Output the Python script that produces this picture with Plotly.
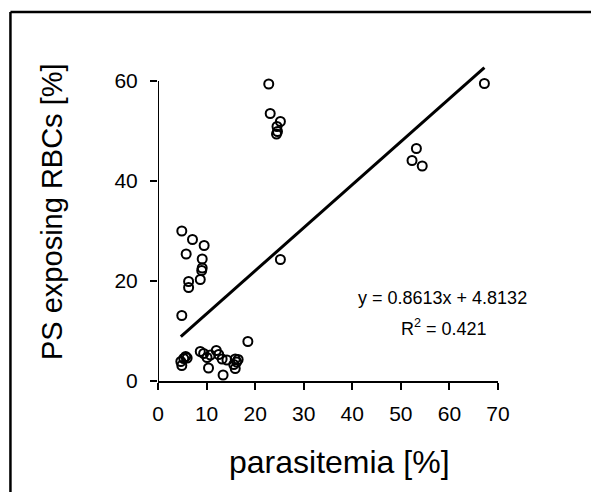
import plotly.graph_objects as go

# parasitemia [%] vs. share of PS-exposing RBCs [%]
parasitemia = [
    4.7, 5.3, 5.7, 4.9, 6.0,
    8.7, 9.4, 10.1, 10.4, 10.8,
    12.0, 12.5, 13.2, 13.4, 14.2,
    15.6, 15.9, 15.9, 16.5, 16.2,
    4.9, 7.1, 9.5, 5.8, 9.1, 9.1, 9.0, 8.7, 6.3, 6.3, 4.9, 18.5, 25.2,
    22.8, 23.1, 25.2, 24.5, 24.4, 24.6,
    53.2, 52.3, 54.4, 67.2,
]
ps_exposing = [
    3.9, 4.5, 4.9, 3.1, 4.6,
    5.9, 5.5, 4.7, 2.6, 5.2,
    6.1, 5.3, 4.4, 1.2, 4.2,
    3.3, 2.5, 4.4, 4.3, 3.8,
    30.0, 28.3, 27.1, 25.4, 24.4, 22.6, 22.1, 20.3, 19.9, 18.7, 13.1, 7.9, 24.3,
    59.4, 53.5, 51.9, 50.9, 49.4, 49.9,
    46.5, 44.1, 43.0, 59.5,
]

# linear fit reported on the chart
slope = 0.8613
intercept = 4.8132
r_squared = 0.421

x_ticks = [0, 10, 20, 30, 40, 50, 60, 70]
y_ticks = [0, 20, 40, 60]
y_axis_top = 60

FONT = "Liberation Sans, Arial, sans-serif"

fit_x = [min(parasitemia), max(parasitemia)]
fit_y = [slope * v + intercept for v in fit_x]

fig = go.Figure()
fig.add_trace(go.Scatter(
    x=fit_x, y=fit_y, mode="lines",
    line=dict(color="black", width=3),
    hoverinfo="skip",
))
fig.add_trace(go.Scatter(
    x=parasitemia, y=ps_exposing, mode="markers",
    marker=dict(symbol="circle-open", size=9, color="black",
                line=dict(color="black", width=2)),
    cliponaxis=False,
))

# y axis line stops at the last tick while the plot area leaves room above
fig.add_shape(type="line", xref="x", yref="y",
              x0=0, x1=0, y0=0, y1=y_axis_top,
              line=dict(color="black", width=2))

fig.add_annotation(
    x=58.5, y=16.6, xref="x", yref="y", showarrow=False,
    text=f"y = {slope}x + {intercept}",
    font=dict(family=FONT, size=18, color="black"),
)
fig.add_annotation(
    x=58.8, y=10.8, xref="x", yref="y", showarrow=False,
    text=f"R<sup>2</sup> = {r_squared}",
    font=dict(family=FONT, size=18, color="black"),
)

# axis titles
fig.add_annotation(
    x=0.535, y=-0.253, xref="paper", yref="paper", showarrow=False,
    xanchor="center", yanchor="middle",
    text="parasitemia [%]",
    font=dict(family=FONT, size=32, color="black"),
)
fig.add_annotation(
    x=-0.312, y=0.531, xref="paper", yref="paper", showarrow=False,
    xanchor="center", yanchor="middle", textangle=-90,
    text="PS exposing RBCs [%]",
    font=dict(family=FONT, size=29, color="black"),
)

# frame around the figure (left and top edges visible)
fig.add_shape(type="line", xref="paper", yref="paper",
              x0=-0.434, x1=1.4, y0=1.153, y1=1.153,
              line=dict(color="black", width=2.5))
fig.add_shape(type="line", xref="paper", yref="paper",
              x0=-0.434, x1=-0.434, y0=1.153, y1=-0.5,
              line=dict(color="black", width=2.5))

tick_common = dict(
    showgrid=False, zeroline=False,
    ticks="outside", ticklen=7, tickwidth=2, tickcolor="black",
    tickfont=dict(family=FONT, size=21, color="black"),
)

fig.update_layout(
    width=591, height=492,
    margin=dict(l=158, r=93, t=61, b=111),
    paper_bgcolor="white", plot_bgcolor="white",
    showlegend=False,
    xaxis=dict(range=[0, 70], tickvals=x_ticks,
               showline=True, linecolor="black", linewidth=2,
               ticklabelstandoff=6, **tick_common),
    yaxis=dict(range=[0, 64], tickvals=y_ticks, showline=False,
               ticklabelstandoff=8, **tick_common),
)

fig.write_html("out.html")
